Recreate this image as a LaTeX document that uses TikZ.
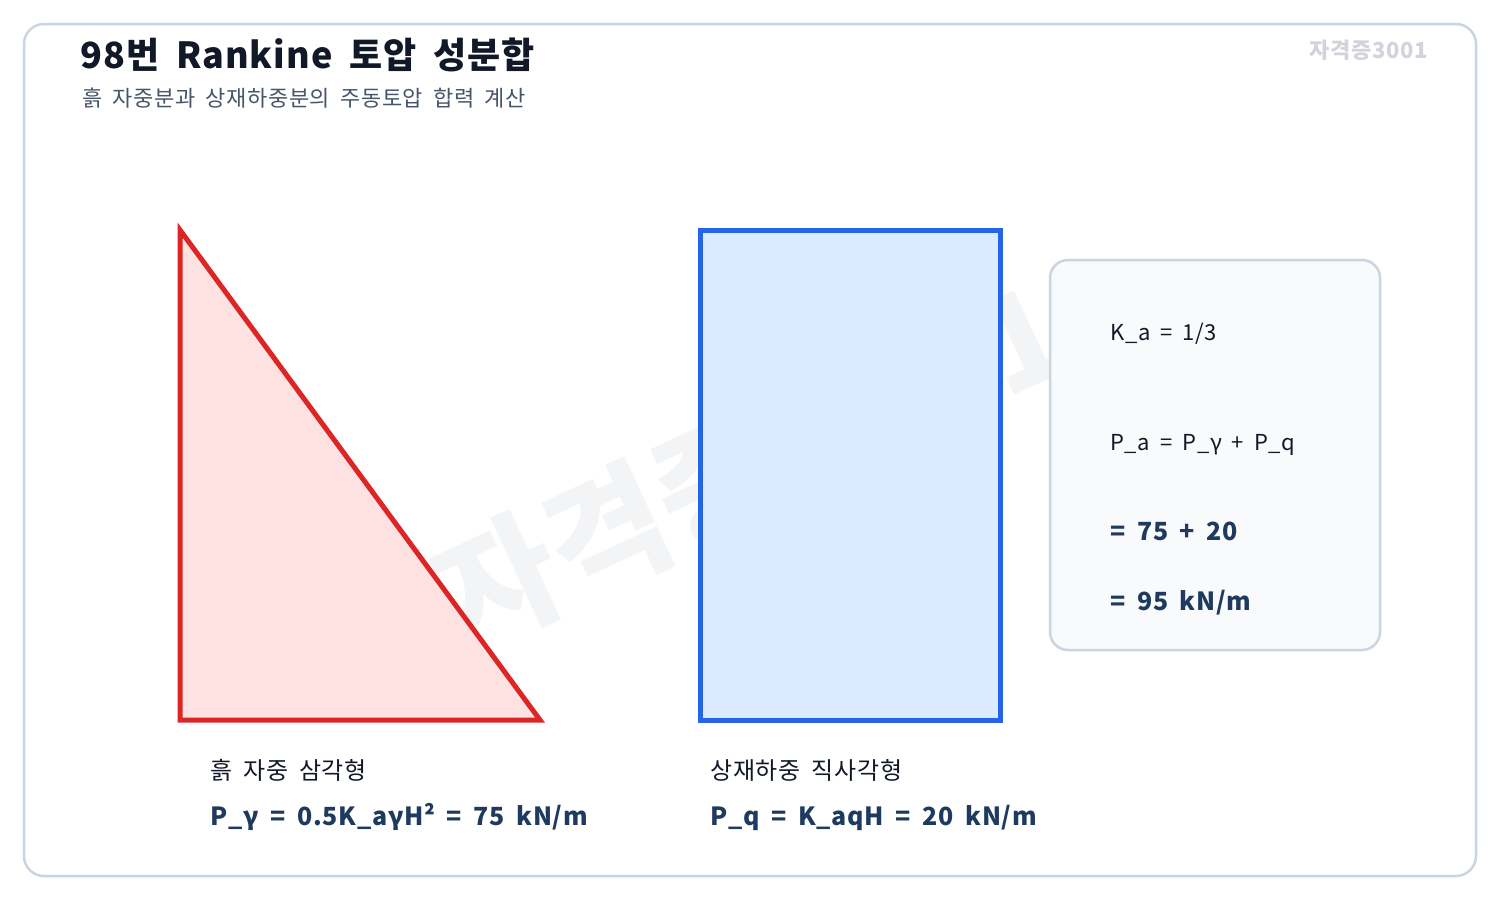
\documentclass[tikz,border=0pt]{standalone}
\usepackage{fontspec}
\setmainfont{Noto Sans CJK KR}[WordSpace=1.8,LetterSpace=3]
\definecolor{ink}{HTML}{111827}
\definecolor{navy}{HTML}{1E3A5F}
\definecolor{slate}{HTML}{475569}
\definecolor{frameline}{HTML}{CBD5E1}
\definecolor{markgray}{HTML}{F3F4F6}
\definecolor{tagGray}{HTML}{D1D5DB}
\definecolor{soilred}{HTML}{DC2626}
\definecolor{soilfill}{HTML}{FEE2E2}
\definecolor{loadblue}{HTML}{2563EB}
\definecolor{loadfill}{HTML}{DBEAFE}
\definecolor{boxfill}{HTML}{F8FAFC}

\begin{document}
\begin{tikzpicture}[x=1pt,y=-1pt,
  txt/.style={anchor=base west,inner sep=0pt},
  plain/.style={txt,text=ink,font=\fontsize{22}{26}\selectfont},
  caption/.style={txt,text=ink,font=\fontsize{24}{28}\selectfont},
  result/.style={txt,text=navy,font=\fontsize{25}{30}\selectfont\bfseries}]
\useasboundingbox (0,0) rectangle (1500,900);
\fill [white] (0,0) rectangle (1500,900);
\draw [frameline,line width=2.5pt,rounded corners=20pt] (24,24) rectangle (1476,876);

% watermark
\node (mark) [rotate=25,anchor=base,inner sep=0pt,text=markgray,
  font=\fontsize{130}{130}\selectfont\bfseries\addfontfeatures{LetterSpace=0}] at (771,509) {자격증3001};

% title
\node (title) [txt,text=ink,font=\fontsize{36}{40}\selectfont\bfseries] at (80,68) {98번 Rankine 토압 성분합};
\node (sub) [txt,text=slate,font=\fontsize{22}{26}\selectfont] at (82,106) {흙 자중분과 상재하중분의 주동토압 합력 계산};
\node (tag) [anchor=base east,inner sep=0pt,text=tagGray,font=\fontsize{22}{26}\selectfont\bfseries] at (1428,58) {자격증3001};

% soil weight triangle
\coordinate (tri top) at (180,230);
\coordinate (tri heel) at (180,720);
\coordinate (tri toe) at (540,720);
\draw [soilred,fill=soilfill,line width=5pt] (tri top) -- (tri heel) -- (tri toe) -- cycle;

% surcharge rectangle
\coordinate (rect nw) at (700,230);
\coordinate (rect se) at (1000,720);
\draw [loadblue,fill=loadfill,line width=5pt] (rect nw) rectangle (rect se);

% sum box
\draw [frameline,fill=boxfill,line width=2.5pt,rounded corners=18pt] (1050,260) rectangle (1380,650);
\node (ka) [plain] at (1110,340) {K\_a = 1/3};
\node (pa) [plain] at (1110,450) {P\_a = P\_γ + P\_q};
\node (sum) [result] at (1110,540) {= 75 + 20};
\node (total) [result] at (1110,610) {= 95 kN/m};

% captions
\node (tri name) [caption] at (210,779) {흙 자중 삼각형};
\node (tri val) [result] at (210,825) {P\_γ = 0.5K\_aγH² = 75 kN/m};
\node (rect name) [caption] at (710,779) {상재하중 직사각형};
\node (rect val) [result] at (710,825) {P\_q = K\_aqH = 20 kN/m};
\end{tikzpicture}
\end{document}
